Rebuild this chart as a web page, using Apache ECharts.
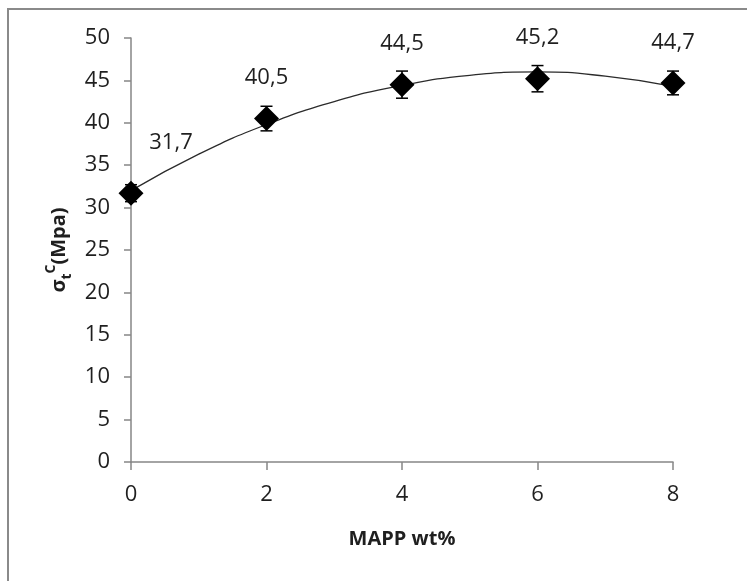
<!DOCTYPE html>
<html>
<head>
<meta charset="utf-8">
<script src="https://cdn.jsdelivr.net/npm/echarts@6.0.0/dist/echarts.min.js"></script>
<style>
  html, body { margin: 0; padding: 0; background: #fff; }
  #chart { width: 747px; height: 581px; }
</style>
</head>
<body>
<div id="chart"></div>
<script>
  // --- Data ---
  const mappWt = [0, 2, 4, 6, 8];
  const strength = [31.7, 40.5, 44.5, 45.2, 44.7];
  const errors = [1.0, 1.45, 1.6, 1.55, 1.4];
  const valueLabels = ['31,7', '40,5', '44,5', '45,2', '44,7'];

  // polynomial trendline at each x
  const trendX = [0, 1, 2, 3, 4, 5, 6, 7, 8];
  const trendY = [32.0, 36.3, 39.8, 42.5, 44.4, 45.6, 46.0, 45.5, 44.3];

  const FONT = 'Open Sans';
  const TEXT = '#1f1f1f';
  const AXIS = '#868686';

  const chart = echarts.init(document.getElementById('chart'), null, { renderer: 'canvas' });

  const points = mappWt.map((x, i) => ({
    value: [x, strength[i]],
    label: i === 0 ? { offset: [40, -10] } : {}
  }));

  const option = {
    backgroundColor: '#fff',
    animation: false,
    textStyle: { fontFamily: FONT },
    graphic: [{
      type: 'rect',
      shape: { x: 8, y: 9, width: 900, height: 800 },
      style: { fill: 'none', stroke: '#8a8a8a', lineWidth: 2 },
      silent: true
    }],
    grid: { left: 131, right: 74, top: 38, bottom: 119 },
    xAxis: {
      type: 'value',
      min: 0, max: 8, interval: 2,
      name: 'MAPP wt%',
      nameLocation: 'middle',
      nameGap: 67,
      nameTextStyle: { fontFamily: FONT, fontSize: 20, fontWeight: 'bold', color: TEXT },
      axisLine: { show: true, lineStyle: { color: AXIS, width: 1.5 } },
      axisTick: { show: true, length: 8, lineStyle: { color: AXIS, width: 1.5 } },
      axisLabel: { color: TEXT, fontSize: 22, margin: 22 },
      splitLine: { show: false }
    },
    yAxis: {
      type: 'value',
      min: 0, max: 50, interval: 5,
      name: '{s|σ}{sub|t}{sup|C}{s|(Mpa)}',
      nameLocation: 'middle',
      nameRotate: 90,
      nameGap: 57,
      nameTextStyle: {
        fontFamily: FONT,
        color: TEXT,
        rich: {
          s: { fontSize: 20, fontWeight: 'bold', fontFamily: FONT, color: TEXT, lineHeight: 30, verticalAlign: 'middle' },
          sub: { fontSize: 14, fontWeight: 'bold', fontFamily: FONT, color: TEXT, verticalAlign: 'bottom', lineHeight: 30 },
          sup: { fontSize: 14, fontWeight: 'bold', fontFamily: FONT, color: TEXT, verticalAlign: 'top', lineHeight: 30 }
        }
      },
      axisLine: { show: true, lineStyle: { color: AXIS, width: 1.5 } },
      axisTick: { show: true, length: 7, lineStyle: { color: AXIS, width: 1.5 } },
      axisLabel: { color: TEXT, fontSize: 22, margin: 21 },
      splitLine: { show: false }
    },
    series: [
      {
        name: 'trend',
        type: 'line',
        data: trendX.map((x, i) => [x, trendY[i]]),
        smooth: true,
        showSymbol: false,
        lineStyle: { color: '#2b2b2b', width: 1.3 },
        z: 1
      },
      {
        name: 'error',
        type: 'custom',
        data: mappWt.map((x, i) => [x, strength[i] - errors[i], strength[i] + errors[i]]),
        renderItem: function (params, api) {
          const lo = api.coord([api.value(0), api.value(1)]);
          const hi = api.coord([api.value(0), api.value(2)]);
          const cap = 6;
          const style = { stroke: '#000', lineWidth: 1.5 };
          return {
            type: 'group',
            children: [
              { type: 'line', shape: { x1: lo[0], y1: lo[1], x2: hi[0], y2: hi[1] }, style: style },
              { type: 'line', shape: { x1: lo[0] - cap, y1: lo[1], x2: lo[0] + cap, y2: lo[1] }, style: style },
              { type: 'line', shape: { x1: hi[0] - cap, y1: hi[1], x2: hi[0] + cap, y2: hi[1] }, style: style }
            ]
          };
        },
        z: 2
      },
      {
        name: 'strength',
        type: 'line',
        data: points,
        symbol: 'diamond',
        symbolSize: [25, 25],
        lineStyle: { opacity: 0 },
        itemStyle: { color: '#000' },
        label: {
          show: true,
          position: 'top',
          distance: 17,
          fontFamily: FONT,
          fontSize: 22,
          color: TEXT,
          formatter: p => valueLabels[p.dataIndex]
        },
        z: 3
      }
    ]
  };

  chart.setOption(option);
</script>
</body>
</html>
